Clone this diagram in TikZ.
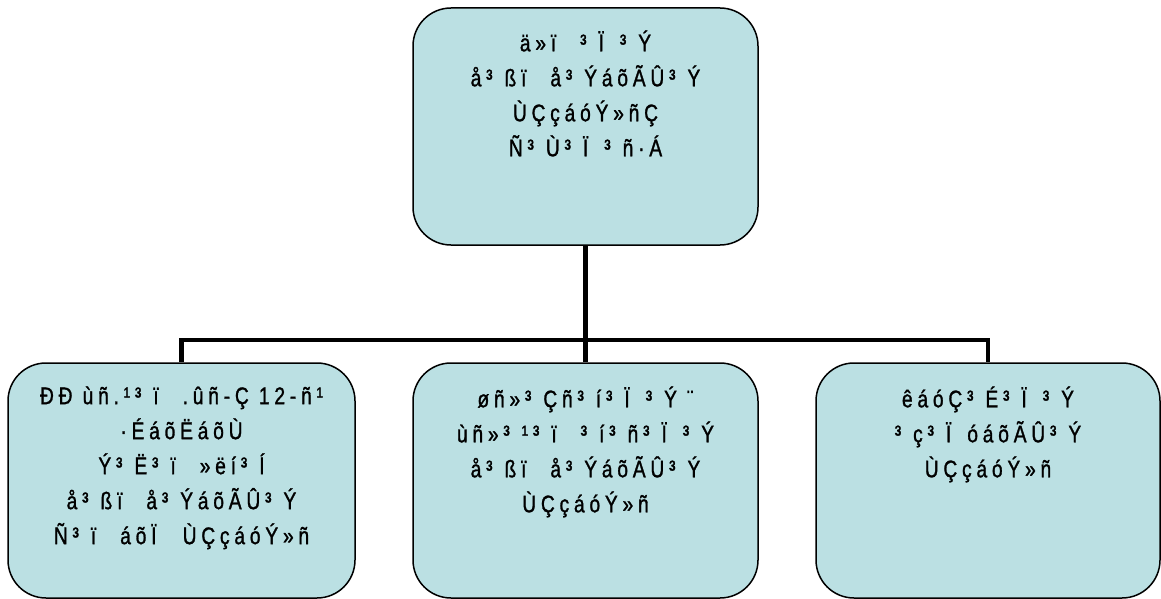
\documentclass[tikz,border=0pt]{standalone}
\usepackage{fontspec}
\setmainfont[FakeStretch=0.8, LetterSpace=20, FakeBold=1.2]{Liberation Sans}
\newcommand\tA{³\kern12pt}
\newcommand\tI{ï\kern24pt}
\newcommand\tK{Ï\kern16pt}
\definecolor{boxfill}{RGB}{187,224,227}
\tikzset{
  box/.style={draw=black, line width=1.5pt, fill=boxfill, rounded corners=38pt, inner sep=0pt},
  txt/.style={anchor=north, align=center, inner sep=0pt, font=\fontsize{24}{35}\selectfont},
  conn/.style={draw=black, line width=4.5pt}
}
\begin{document}
\begin{tikzpicture}[x=1pt, y=-1pt]
\useasboundingbox (0,0) rectangle (1161,599);
% boxes
\node[box, minimum width=345pt, minimum height=237pt] (top) at (585.5,126.5) {};
\node[box, minimum width=347pt, minimum height=235pt] (l) at (181.5,480.5) {};
\node[box, minimum width=345pt, minimum height=235pt] (m) at (585.5,480.5) {};
\node[box, minimum width=344pt, minimum height=235pt] (r) at (988,480.5) {};
% texts
\node[txt] (toptxt) at ([yshift=-23pt]top.north) {ä»\tI{}\tA{}\tK{}\tA{}Ý\\ å\tA{}ß\tI{}å\tA{}ÝáõÃÛ\tA{}Ý\\ ÙÇçáóÝ»ñÇ\\ Ñ\tA{}Ù\tA{}\tK{}\tA{}ñ·Á};
\node[txt] (ltxt) at ([yshift=-24pt]l.north) {ÐÐ ùñ.¹\tA{}\tI{}.ûñ-Ç 12-ñ¹\\ ·ÉáõËáõÙ\\ Ý\tA{}Ë\tA{}\tI{}»ëí\tA{}Í\\ å\tA{}ß\tI{}å\tA{}ÝáõÃÛ\tA{}Ý\\ Ñ\tA{}\tI{}áõ\tK{} ÙÇçáóÝ»ñ};
\node[txt] (mtxt) at ([yshift=-24pt]m.north) {øñ»\tA{}Çñ\tA{}í\tA{}\tK{}\tA{}Ý ¨\\ ùñ»\tA{}¹\tA{}\tI{}\tA{}í\tA{}ñ\tA{}\tK{}\tA{}Ý\\ å\tA{}ß\tI{}å\tA{}ÝáõÃÛ\tA{}Ý\\ ÙÇçáóÝ»ñ};
\node[txt] (rtxt) at ([yshift=-24pt]r.north) {êáóÇ\tA{}É\tA{}\tK{}\tA{}Ý\\ \tA{}ç\tA{}\tK{}óáõÃÛ\tA{}Ý\\ ÙÇçáóÝ»ñ};
% connectors
\coordinate (j) at (585.5,340);
\draw[conn] (top.south) -- (j);
\draw[conn] (j) -| (l.north);
\draw[conn] (j) -| (r.north);
\draw[conn] (j) -- (m.north);
\end{tikzpicture}
\end{document}
